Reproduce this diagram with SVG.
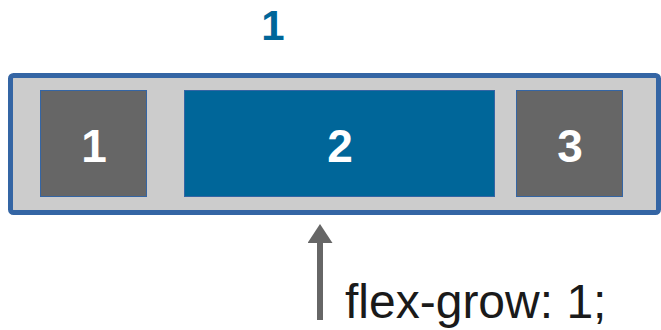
<svg xmlns="http://www.w3.org/2000/svg" width="661" height="330" viewBox="0 0 661 330">
<style>
.item{stroke:#3465a4;stroke-width:1}
.gray{fill:#666666}
.num{font-family:"Liberation Sans",Arial,sans-serif;font-weight:bold;font-size:46px;fill:#ffffff;text-anchor:middle}
.title{font-family:"Liberation Sans",Arial,sans-serif;font-weight:bold;font-size:42px;fill:#006699;text-anchor:middle}
.label{font-family:"Liberation Sans",Arial,sans-serif;font-size:48px;fill:#1a1a1a}
</style>
<defs>
<marker id="ah" viewBox="0 0 19 25" refX="0" refY="12.5" markerWidth="19" markerHeight="25" markerUnits="userSpaceOnUse" orient="auto">
<path d="M0,0 L19,12.5 L0,25 Z" fill="#666666"/>
</marker>
</defs>
<text class="title" x="273" y="40">1</text>
<g id="container">
<rect x="10.5" y="75.5" width="648" height="137" rx="3" fill="#cccccc" stroke="#3465a4" stroke-width="5"/>
</g>
<g id="item1">
<rect class="item gray" x="40.5" y="90.5" width="106" height="106"/>
<text class="num" x="94" y="162">1</text>
</g>
<g id="item2">
<rect class="item" x="184.5" y="90.5" width="310" height="106" fill="#006699"/>
<text class="num" x="340" y="162">2</text>
</g>
<g id="item3">
<rect class="item gray" x="516.5" y="90.5" width="106" height="106"/>
<text class="num" x="570" y="162">3</text>
</g>
<g id="connectors">
<line x1="320" y1="320" x2="320" y2="243" stroke="#666666" stroke-width="6" marker-end="url(#ah)"/>
</g>
<text class="label" x="345" y="318">flex-grow: 1;</text>
</svg>
